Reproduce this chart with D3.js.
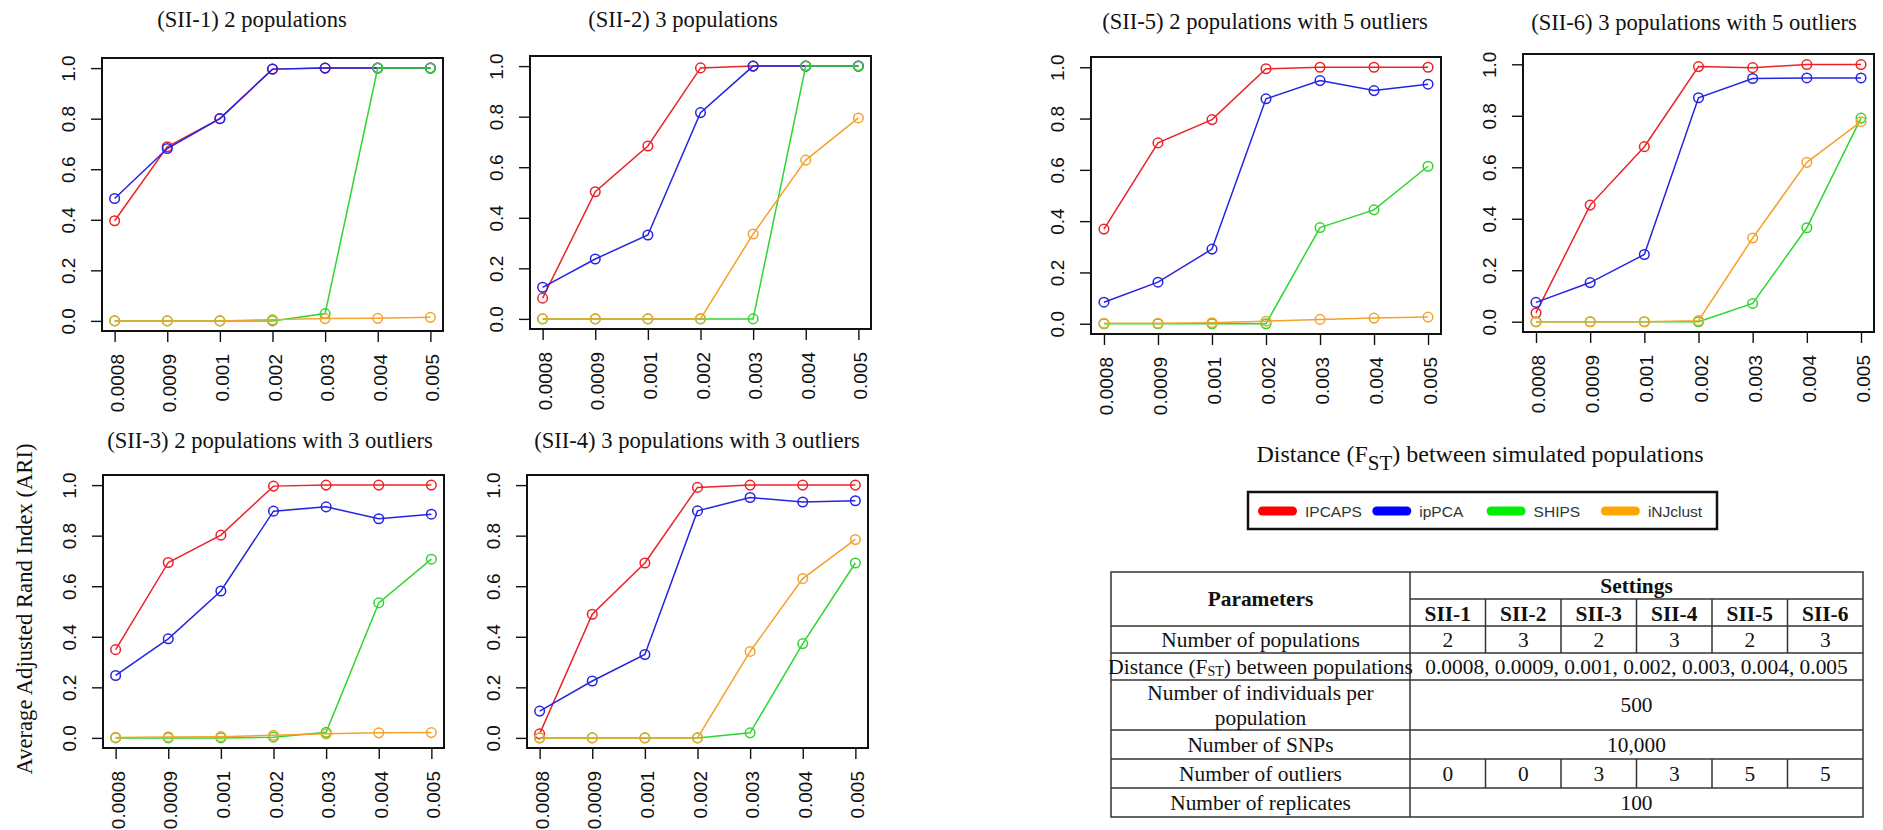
<!DOCTYPE html>
<html>
<head>
<meta charset="utf-8">
<script src="https://cdn.jsdelivr.net/npm/d3@7"></script>
<style>
  html, body { margin: 0; padding: 0; background: #fff; }
  svg { display: block; }
</style>
</head>
<body>
<svg id="chart" width="1883" height="830"></svg>
<script>
// ---------------- DATA ----------------
const categories = ["0.0008", "0.0009", "0.001", "0.002", "0.003", "0.004", "0.005"];
const methods = ["IPCAPS", "ipPCA", "SHIPS", "iNJclust"];
const yTicks = [0, 0.2, 0.4, 0.6, 0.8, 1.0];
const panelTitles = [
  "(SII-1) 2 populations",
  "(SII-2) 3 populations",
  "(SII-3) 2 populations with 3 outliers",
  "(SII-4) 3 populations with 3 outliers",
  "(SII-5) 2 populations with 5 outliers",
  "(SII-6) 3 populations with 5 outliers"
];

const sii1_IPCAPS   = [0.396, 0.689, 0.800, 0.996, 1.000, 1.000, 1.000];
const sii1_ipPCA    = [0.484, 0.682, 0.800, 0.996, 1.000, 1.000, 1.000];
const sii1_SHIPS    = [0.000, 0.000, 0.000, 0.000, 0.029, 1.000, 1.000];
const sii1_iNJclust = [0.000, 0.000, 0.000, 0.005, 0.009, 0.010, 0.014];

const sii2_IPCAPS   = [0.082, 0.503, 0.684, 0.993, 1.000, 1.000, 1.000];
const sii2_ipPCA    = [0.125, 0.237, 0.332, 0.816, 1.000, 1.000, 1.000];
const sii2_SHIPS    = [0.000, 0.000, 0.000, 0.000, 0.000, 1.000, 1.000];
const sii2_iNJclust = [0.000, 0.000, 0.000, 0.000, 0.336, 0.628, 0.795];

const sii3_IPCAPS   = [0.349, 0.694, 0.802, 0.996, 1.000, 1.000, 1.000];
const sii3_ipPCA    = [0.247, 0.392, 0.581, 0.897, 0.914, 0.867, 0.885];
const sii3_SHIPS    = [0.000, 0.000, 0.000, 0.003, 0.022, 0.534, 0.707];
const sii3_iNJclust = [0.002, 0.004, 0.005, 0.010, 0.016, 0.020, 0.021];

const sii4_IPCAPS   = [0.016, 0.489, 0.692, 0.991, 1.000, 1.000, 1.000];
const sii4_ipPCA    = [0.106, 0.225, 0.330, 0.898, 0.951, 0.933, 0.938];
const sii4_SHIPS    = [0.000, 0.000, 0.000, 0.000, 0.020, 0.373, 0.692];
const sii4_iNJclust = [0.000, 0.000, 0.000, 0.000, 0.342, 0.630, 0.785];

const sii5_IPCAPS   = [0.369, 0.705, 0.796, 0.994, 1.000, 1.000, 1.000];
const sii5_ipPCA    = [0.084, 0.162, 0.291, 0.877, 0.948, 0.909, 0.934];
const sii5_SHIPS    = [0.000, 0.000, 0.000, 0.000, 0.375, 0.444, 0.614];
const sii5_iNJclust = [0.002, 0.002, 0.004, 0.010, 0.017, 0.022, 0.026];

const sii6_IPCAPS   = [0.034, 0.453, 0.680, 0.991, 0.987, 0.999, 0.999];
const sii6_ipPCA    = [0.075, 0.152, 0.261, 0.870, 0.945, 0.947, 0.947];
const sii6_SHIPS    = [0.000, 0.000, 0.000, 0.000, 0.071, 0.365, 0.791];
const sii6_iNJclust = [0.000, 0.000, 0.000, 0.004, 0.325, 0.619, 0.777];

// table content
const tableSettings = ["SII-1", "SII-2", "SII-3", "SII-4", "SII-5", "SII-6"];
const tablePopulations = ["2", "3", "2", "3", "2", "3"];
const tableOutliers = ["0", "0", "3", "3", "5", "5"];
const tableDistances = "0.0008, 0.0009, 0.001, 0.002, 0.003, 0.004, 0.005";
const tableIndividuals = "500";
const tableSNPs = "10,000";
const tableReplicates = "100";

// ---------------- STYLE / LAYOUT ----------------
const seriesByPanel = [
  [sii1_IPCAPS, sii1_ipPCA, sii1_SHIPS, sii1_iNJclust],
  [sii2_IPCAPS, sii2_ipPCA, sii2_SHIPS, sii2_iNJclust],
  [sii3_IPCAPS, sii3_ipPCA, sii3_SHIPS, sii3_iNJclust],
  [sii4_IPCAPS, sii4_ipPCA, sii4_SHIPS, sii4_iNJclust],
  [sii5_IPCAPS, sii5_ipPCA, sii5_SHIPS, sii5_iNJclust],
  [sii6_IPCAPS, sii6_ipPCA, sii6_SHIPS, sii6_iNJclust]
];
const lineColors = ["#ec2228", "#2424e4", "#30d630", "#f5a22c"];
const legendColors = ["#ff0000", "#0000ff", "#00ee00", "#ffa500"];

// box: [left, right, top, bottom], title: [centerX, baselineY]
const panels = [
  { box: [102, 443, 58, 331],  title: [252, 27] },
  { box: [530, 871, 56, 329],  title: [683, 27] },
  { box: [103, 444, 475, 748], title: [270, 448] },
  { box: [527, 868, 475, 748], title: [697, 448] },
  { box: [1091, 1441, 57, 334], title: [1265, 29] },
  { box: [1523, 1874, 54, 332], title: [1694, 30] }
];

const svg = d3.select("#chart");
const sansFont = "'Liberation Sans', Arial, Helvetica, sans-serif";
const serifFont = "'Liberation Serif', 'Times New Roman', Times, serif";

panels.forEach((p, pi) => {
  const [L, R, T, B] = p.box;
  const x = d3.scalePoint().domain(categories).range([L, R]).padding(0.24);
  const y = d3.scaleLinear().domain([-0.04, 1.04]).range([B, T]);
  const g = svg.append("g");

  // title
  g.append("text")
    .attr("x", p.title[0]).attr("y", p.title[1])
    .attr("text-anchor", "middle")
    .attr("font-family", serifFont)
    .attr("font-size", 22.6)
    .attr("fill", "#111")
    .text(panelTitles[pi]);

  // y axis
  const yAxis = d3.axisLeft(y).tickValues(yTicks).tickSize(11).tickPadding(0)
    .tickFormat(d3.format(".1f"));
  const ya = g.append("g").attr("transform", `translate(${L},0)`).call(yAxis);
  ya.select(".domain").remove();
  ya.selectAll(".tick line").attr("stroke", "#111").attr("stroke-width", 1.4);
  ya.selectAll(".tick text")
    .attr("x", null).attr("dy", null)
    .attr("transform", "translate(-34,0) rotate(-90)")
    .attr("text-anchor", "middle")
    .attr("dominant-baseline", "central")
    .attr("font-family", sansFont)
    .attr("font-size", 19)
    .attr("fill", "#111");

  // x axis
  const xAxis = d3.axisBottom(x).tickSize(11).tickPadding(0);
  const xa = g.append("g").attr("transform", `translate(0,${B})`).call(xAxis);
  xa.select(".domain").remove();
  xa.selectAll(".tick line").attr("stroke", "#111").attr("stroke-width", 1.4);
  xa.selectAll(".tick text")
    .attr("y", null).attr("dy", null)
    .attr("transform", "translate(2,23) rotate(-90)")
    .attr("text-anchor", "end")
    .attr("dominant-baseline", "central")
    .attr("font-family", sansFont)
    .attr("font-size", 19)
    .attr("fill", "#111");

  // series
  const line = d3.line().x((d, i) => x(categories[i])).y(d => y(d));
  seriesByPanel[pi].forEach((vals, si) => {
    g.append("path")
      .datum(vals)
      .attr("d", line)
      .attr("fill", "none")
      .attr("stroke", lineColors[si])
      .attr("stroke-width", 1.5);
    g.selectAll(null)
      .data(vals)
      .enter().append("circle")
      .attr("cx", (d, i) => x(categories[i]))
      .attr("cy", d => y(d))
      .attr("r", 4.8)
      .attr("fill", "none")
      .attr("stroke", lineColors[si])
      .attr("stroke-width", 1.5);
  });

  // box
  g.append("rect")
    .attr("x", L).attr("y", T)
    .attr("width", R - L).attr("height", B - T)
    .attr("fill", "none")
    .attr("stroke", "#111")
    .attr("stroke-width", 2);
});

// common y label
svg.append("text")
  .attr("transform", "translate(24,609) rotate(-90)")
  .attr("text-anchor", "middle")
  .attr("dominant-baseline", "central")
  .attr("font-family", serifFont)
  .attr("font-size", 22.6)
  .attr("fill", "#111")
  .text("Average Adjusted Rand Index (ARI)");

// common x label
const xl = svg.append("text")
  .attr("x", 1480).attr("y", 462)
  .attr("text-anchor", "middle")
  .attr("font-family", serifFont)
  .attr("font-size", 24)
  .attr("fill", "#111");
xl.append("tspan").text("Distance (F");
xl.append("tspan").attr("dy", 8).attr("font-size", 21).text("ST");
xl.append("tspan").attr("dy", -8).text(") between simulated populations");

// legend
const legend = svg.append("g");
legend.append("rect")
  .attr("x", 1248).attr("y", 492).attr("width", 469).attr("height", 37)
  .attr("fill", "#fff").attr("stroke", "#111").attr("stroke-width", 2.5);
methods.forEach((m, i) => {
  const sx = 1258 + i * 114.3;
  legend.append("line")
    .attr("x1", sx + 4.5).attr("x2", sx + 34.5)
    .attr("y1", 511).attr("y2", 511)
    .attr("stroke", legendColors[i]).attr("stroke-width", 9)
    .attr("stroke-linecap", "round");
  legend.append("text")
    .attr("x", sx + 47).attr("y", 511)
    .attr("dominant-baseline", "central")
    .attr("font-family", sansFont)
    .attr("font-size", 15.5)
    .attr("fill", "#333")
    .text(m);
});

// table
const tb = svg.append("g");
const tL = 1111, tR = 1863, tDiv = 1410;
const colW = (tR - tDiv) / 6;
const rows = [572, 626, 653, 680, 730, 759, 788, 817];
const subY = 599;
const lineStyle = sel => sel.attr("stroke", "#333").attr("stroke-width", 1.5);

// outer border
tb.append("rect").attr("x", tL).attr("y", rows[0]).attr("width", tR - tL)
  .attr("height", rows[rows.length - 1] - rows[0]).attr("fill", "none").call(lineStyle);
// horizontal lines
rows.slice(1, -1).forEach(ry => {
  tb.append("line").attr("x1", tL).attr("x2", tR).attr("y1", ry).attr("y2", ry).call(lineStyle);
});
tb.append("line").attr("x1", tDiv).attr("x2", tR).attr("y1", subY).attr("y2", subY).call(lineStyle);
// vertical lines
tb.append("line").attr("x1", tDiv).attr("x2", tDiv).attr("y1", rows[0]).attr("y2", rows[7]).call(lineStyle);
// sub columns: header sub row, populations row, outliers row
const colSegments = [[subY, rows[1]], [rows[1], rows[2]], [rows[5], rows[6]]];
for (let c = 1; c < 6; c++) {
  const cx = tDiv + c * colW;
  colSegments.forEach(([a, b]) => {
    tb.append("line").attr("x1", cx).attr("x2", cx).attr("y1", a).attr("y2", b).call(lineStyle);
  });
}

const cellText = (x, y, txt, bold) => tb.append("text")
  .attr("x", x).attr("y", y)
  .attr("text-anchor", "middle")
  .attr("dominant-baseline", "central")
  .attr("font-family", serifFont)
  .attr("font-size", 21.4)
  .attr("font-weight", bold ? "bold" : "normal")
  .attr("fill", "#111")
  .text(txt);

const pCx = (tL + tDiv) / 2;
const sCx = (tDiv + tR) / 2;
const mid = i => (rows[i] + rows[i + 1]) / 2;

cellText(pCx, mid(0), "Parameters", true);
cellText(sCx, (rows[0] + subY) / 2, "Settings", true);
tableSettings.forEach((s, i) => cellText(tDiv + (i + 0.5) * colW, (subY + rows[1]) / 2 + 1, s, true));

cellText(pCx, mid(1), "Number of populations");
tablePopulations.forEach((s, i) => cellText(tDiv + (i + 0.5) * colW, mid(1), s));

const dt = tb.append("text")
  .attr("x", pCx).attr("y", mid(2))
  .attr("text-anchor", "middle")
  .attr("dominant-baseline", "central")
  .attr("font-family", serifFont)
  .attr("font-size", 21.4)
  .attr("fill", "#111");
dt.append("tspan").text("Distance (F");
dt.append("tspan").attr("dy", 4).attr("font-size", 14).text("ST");
dt.append("tspan").attr("dy", -4).text(") between populations");
cellText(sCx, mid(2), tableDistances);

cellText(pCx, mid(3) - 12, "Number of individuals per");
cellText(pCx, mid(3) + 13, "population");
cellText(sCx, mid(3), tableIndividuals);

cellText(pCx, mid(4), "Number of SNPs");
cellText(sCx, mid(4), tableSNPs);

cellText(pCx, mid(5), "Number of outliers");
tableOutliers.forEach((s, i) => cellText(tDiv + (i + 0.5) * colW, mid(5), s));

cellText(pCx, mid(6), "Number of replicates");
cellText(sCx, mid(6), tableReplicates);
</script>
</body>
</html>
